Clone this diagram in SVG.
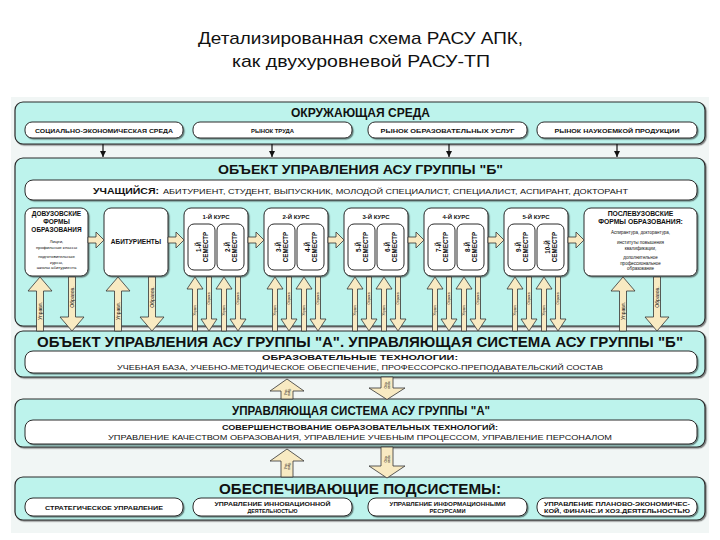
<svg xmlns="http://www.w3.org/2000/svg" width="720" height="540" viewBox="0 0 720 540">
<defs>
<style>
.t{font-family:"Liberation Sans",Arial,sans-serif;fill:#111}
.b{font-weight:bold}
.m{text-anchor:middle}
.panel{fill:#bdf3ec;stroke:#2a2a2a;stroke-width:1.2}
.box{fill:#fff;stroke:#2a2a2a;stroke-width:1}
.arr{fill:#f8eac2;stroke:#333;stroke-width:0.8}
.ln{stroke:#111;stroke-width:1.2;fill:none}
</style>
<filter id="sh" x="-5%" y="-5%" width="110%" height="120%"><feDropShadow dx="1.2" dy="1.2" stdDeviation="0.6" flood-color="#000" flood-opacity="0.45"/></filter>
<marker id="ah" viewBox="0 0 10 10" refX="10" refY="5" markerWidth="5" markerHeight="5" orient="auto"><path d="M0,0 L10,5 L0,10 z" fill="#111"/></marker>
<polygon id="tu" class="arr" points="0,0 8,12 2.5,12 2.5,54 -2.5,54 -2.5,12 -8,12"/>
<polygon id="td" class="arr" points="-2.5,0 2.5,0 2.5,42 8,42 0,54 -8,42 -2.5,42"/>
<polygon id="bu" class="arr" points="0,0 12,14 3.5,14 3.5,54 -3.5,54 -3.5,14 -12,14"/>
<polygon id="bd" class="arr" points="-3.5,0 3.5,0 3.5,40 12,40 0,54 -12,40 -3.5,40"/>
<polygon id="ha" class="arr" points="0,-3 8,-3 8,-8 16,0 8,8 8,3 0,3"/>
</defs>
<rect width="720" height="540" fill="#fff"/>
<rect x="11" y="97" width="698" height="436" fill="#f1f6f5"/>

<g id="title">
<text class="t m" x="360.5" y="44" font-size="17" textLength="325" lengthAdjust="spacingAndGlyphs">Детализированная схема РАСУ АПК,</text>
<text class="t m" x="361" y="67" font-size="17" textLength="258" lengthAdjust="spacingAndGlyphs">как двухуровневой РАСУ-ТП</text>
</g>

<!-- Panel 1 -->
<g id="env">
<rect class="panel" x="15" y="102" width="690" height="42" rx="8" filter="url(#sh)"/>
<text class="t b m" x="360.5" y="117" font-size="13" textLength="139" lengthAdjust="spacingAndGlyphs">ОКРУЖАЮЩАЯ СРЕДА</text>
</g>
<g id="env-1"><rect class="box" x="25" y="122" width="158" height="16" rx="7" filter="url(#sh)"/><text class="t b m" x="104" y="132.5" font-size="6" textLength="138" lengthAdjust="spacingAndGlyphs">СОЦИАЛЬНО-ЭКОНОМИЧЕСКАЯ СРЕДА</text></g>
<g id="env-2"><rect class="box" x="193" y="122" width="159" height="16" rx="7" filter="url(#sh)"/><text class="t b m" x="272.5" y="132.5" font-size="6" textLength="43" lengthAdjust="spacingAndGlyphs">РЫНОК ТРУДА</text></g>
<g id="env-3"><rect class="box" x="368" y="122" width="159" height="16" rx="7" filter="url(#sh)"/><text class="t b m" x="447.5" y="132.5" font-size="6" textLength="134" lengthAdjust="spacingAndGlyphs">РЫНОК ОБРАЗОВАТЕЛЬНЫХ УСЛУГ</text></g>
<g id="env-4"><rect class="box" x="537" y="122" width="160" height="16" rx="7" filter="url(#sh)"/><text class="t b m" x="617" y="132.5" font-size="6" textLength="125" lengthAdjust="spacingAndGlyphs">РЫНОК НАУКОЕМКОЙ ПРОДУКЦИИ</text></g>

<!-- Panel 2 -->
<g id="objB">
<rect class="panel" x="15" y="158" width="690" height="168" rx="8" filter="url(#sh)"/>
<text class="t b m" x="360.5" y="174" font-size="13" textLength="285" lengthAdjust="spacingAndGlyphs">ОБЪЕКТ УПРАВЛЕНИЯ АСУ ГРУППЫ "Б"</text>
</g>
<g id="learner">
<rect class="box" x="25" y="180" width="672" height="20" rx="8" filter="url(#sh)"/>
<text class="t b" x="93" y="193.5" font-size="8.5" textLength="66" lengthAdjust="spacingAndGlyphs">УЧАЩИЙСЯ:</text>
<text class="t" x="163" y="193.5" font-size="7.5" textLength="465" lengthAdjust="spacingAndGlyphs">АБИТУРИЕНТ, СТУДЕНТ, ВЫПУСКНИК, МОЛОДОЙ СПЕЦИАЛИСТ, СПЕЦИАЛИСТ, АСПИРАНТ, ДОКТОРАНТ</text>
</g>

<g id="prevuz">
<rect class="box" x="25" y="208" width="63" height="68" rx="7" filter="url(#sh)"/>
<text class="t b m" x="56.5" y="216" font-size="6.5">ДОВУЗОВСКИЕ</text>
<text class="t b m" x="56.5" y="224" font-size="6.5">ФОРМЫ</text>
<text class="t b m" x="56.5" y="232" font-size="6.5">ОБРАЗОВАНИЯ</text>
<text class="t m" x="56.5" y="243" font-size="4.3">Лицеи,</text>
<text class="t m" x="56.5" y="248.5" font-size="4.3">профильные классы</text>
<text class="t m" x="56.5" y="258" font-size="4.3">подготовительные</text>
<text class="t m" x="56.5" y="263.5" font-size="4.3">курсы,</text>
<text class="t m" x="56.5" y="269" font-size="4.3">школы абитуриента</text>
</g>
<g id="applicants">
<rect class="box" x="104" y="208" width="64" height="68" rx="7" filter="url(#sh)"/>
<text class="t b m" x="136" y="244" font-size="6.5">АБИТУРИЕНТЫ</text>
</g>

<g id="course1">
<rect class="box" x="184" y="208" width="64" height="68" rx="7" filter="url(#sh)"/>
<text class="t b m" x="216" y="219" font-size="6">1-Й КУРС</text>
<rect class="box" x="188" y="224" width="27" height="46" rx="6"/>
<rect class="box" x="217" y="224" width="27" height="46" rx="6"/>
<text class="t b m" font-size="6.3" transform="translate(201.5,247) rotate(-90)"><tspan x="0" y="-1">1-Й</tspan><tspan x="0" y="6.5">СЕМЕСТР</tspan></text>
<text class="t b m" font-size="6.3" transform="translate(230.5,247) rotate(-90)"><tspan x="0" y="-1">2-Й</tspan><tspan x="0" y="6.5">СЕМЕСТР</tspan></text>
</g>
<g id="course2">
<rect class="box" x="264" y="208" width="64" height="68" rx="7" filter="url(#sh)"/>
<text class="t b m" x="296" y="219" font-size="6">2-Й КУРС</text>
<rect class="box" x="268" y="224" width="27" height="46" rx="6"/>
<rect class="box" x="297" y="224" width="27" height="46" rx="6"/>
<text class="t b m" font-size="6.3" transform="translate(281.5,247) rotate(-90)"><tspan x="0" y="-1">3-Й</tspan><tspan x="0" y="6.5">СЕМЕСТР</tspan></text>
<text class="t b m" font-size="6.3" transform="translate(310.5,247) rotate(-90)"><tspan x="0" y="-1">4-Й</tspan><tspan x="0" y="6.5">СЕМЕСТР</tspan></text>
</g>
<g id="course3">
<rect class="box" x="344" y="208" width="64" height="68" rx="7" filter="url(#sh)"/>
<text class="t b m" x="376" y="219" font-size="6">3-Й КУРС</text>
<rect class="box" x="348" y="224" width="27" height="46" rx="6"/>
<rect class="box" x="377" y="224" width="27" height="46" rx="6"/>
<text class="t b m" font-size="6.3" transform="translate(361.5,247) rotate(-90)"><tspan x="0" y="-1">5-Й</tspan><tspan x="0" y="6.5">СЕМЕСТР</tspan></text>
<text class="t b m" font-size="6.3" transform="translate(390.5,247) rotate(-90)"><tspan x="0" y="-1">6-Й</tspan><tspan x="0" y="6.5">СЕМЕСТР</tspan></text>
</g>
<g id="course4">
<rect class="box" x="424" y="208" width="64" height="68" rx="7" filter="url(#sh)"/>
<text class="t b m" x="456" y="219" font-size="6">4-Й КУРС</text>
<rect class="box" x="428" y="224" width="27" height="46" rx="6"/>
<rect class="box" x="457" y="224" width="27" height="46" rx="6"/>
<text class="t b m" font-size="6.3" transform="translate(441.5,247) rotate(-90)"><tspan x="0" y="-1">7-Й</tspan><tspan x="0" y="6.5">СЕМЕСТР</tspan></text>
<text class="t b m" font-size="6.3" transform="translate(470.5,247) rotate(-90)"><tspan x="0" y="-1">8-Й</tspan><tspan x="0" y="6.5">СЕМЕСТР</tspan></text>
</g>
<g id="course5">
<rect class="box" x="504" y="208" width="64" height="68" rx="7" filter="url(#sh)"/>
<text class="t b m" x="536" y="219" font-size="6">5-Й КУРС</text>
<rect class="box" x="508" y="224" width="27" height="46" rx="6"/>
<rect class="box" x="537" y="224" width="27" height="46" rx="6"/>
<text class="t b m" font-size="6.3" transform="translate(521.5,247) rotate(-90)"><tspan x="0" y="-1">9-Й</tspan><tspan x="0" y="6.5">СЕМЕСТР</tspan></text>
<text class="t b m" font-size="6.3" transform="translate(550.5,247) rotate(-90)"><tspan x="0" y="-1">10-Й</tspan><tspan x="0" y="6.5">СЕМЕСТР</tspan></text>
</g>
<g id="postvuz">
<rect class="box" x="584" y="208" width="113" height="68" rx="7" filter="url(#sh)"/>
<text class="t b m" x="640.5" y="216" font-size="6.8">ПОСЛЕВУЗОВСКИЕ</text>
<text class="t b m" x="640.5" y="224" font-size="6.8">ФОРМЫ ОБРАЗОВАНИЯ:</text>
<text class="t m" x="640.5" y="234" font-size="4.5">Аспирантура, докторантура,</text>
<text class="t m" x="640.5" y="244" font-size="4.5">институты повышения</text>
<text class="t m" x="640.5" y="249.5" font-size="4.5">квалификации,</text>
<text class="t m" x="640.5" y="259" font-size="4.5">дополнительное</text>
<text class="t m" x="640.5" y="264.5" font-size="4.5">профессиональное</text>
<text class="t m" x="640.5" y="270" font-size="4.5">образование</text>
</g>

<!-- Panel 3 -->
<g id="objA">
<rect class="panel" x="15" y="331" width="690" height="46" rx="8" filter="url(#sh)"/>
<text class="t b m" x="360" y="346.5" font-size="14" textLength="646" lengthAdjust="spacingAndGlyphs">ОБЪЕКТ УПРАВЛЕНИЯ АСУ ГРУППЫ "А".  УПРАВЛЯЮЩАЯ  СИСТЕМА  АСУ ГРУППЫ "Б"</text>
<rect class="box" x="25" y="351" width="672" height="22" rx="8" filter="url(#sh)"/>
<text class="t b m" x="360" y="360" font-size="8" textLength="196" lengthAdjust="spacingAndGlyphs">ОБРАЗОВАТЕЛЬНЫЕ ТЕХНОЛОГИИ:</text>
<text class="t m" x="360" y="369.5" font-size="7" textLength="486" lengthAdjust="spacingAndGlyphs">УЧЕБНАЯ БАЗА, УЧЕБНО-МЕТОДИЧЕСКОЕ ОБЕСПЕЧЕНИЕ, ПРОФЕССОРСКО-ПРЕПОДАВАТЕЛЬСКИЙ СОСТАВ</text>
</g>

<!-- Panel 4 -->
<g id="ctrlA">
<rect class="panel" x="15" y="399" width="690" height="48" rx="8" filter="url(#sh)"/>
<text class="t b m" x="361" y="414.5" font-size="13" textLength="258" lengthAdjust="spacingAndGlyphs">УПРАВЛЯЮЩАЯ СИСТЕМА  АСУ ГРУППЫ "А"</text>
<rect class="box" x="25" y="420" width="672" height="24" rx="8" filter="url(#sh)"/>
<text class="t b m" x="360" y="430" font-size="8" textLength="276" lengthAdjust="spacingAndGlyphs">СОВЕРШЕНСТВОВАНИЕ ОБРАЗОВАТЕЛЬНЫХ ТЕХНОЛОГИЙ:</text>
<text class="t m" x="360" y="440" font-size="7" textLength="504" lengthAdjust="spacingAndGlyphs">УПРАВЛЕНИЕ КАЧЕСТВОМ ОБРАЗОВАНИЯ, УПРАВЛЕНИЕ УЧЕБНЫМ ПРОЦЕССОМ, УПРАВЛЕНИЕ ПЕРСОНАЛОМ</text>
</g>

<!-- Panel 5 -->
<g id="support">
<rect class="panel" x="15" y="477" width="690" height="43" rx="8" filter="url(#sh)"/>
<text class="t b m" x="360" y="494" font-size="15.5" textLength="282" lengthAdjust="spacingAndGlyphs">ОБЕСПЕЧИВАЮЩИЕ ПОДСИСТЕМЫ:</text>
</g>
<g id="sup-1"><rect class="box" x="25" y="498" width="158" height="18" rx="8" filter="url(#sh)"/><text class="t b m" x="104" y="509.5" font-size="6" textLength="118" lengthAdjust="spacingAndGlyphs">СТРАТЕГИЧЕСКОЕ УПРАВЛЕНИЕ</text></g>
<g id="sup-2"><rect class="box" x="193" y="498" width="159" height="18" rx="8" filter="url(#sh)"/><text class="t b m" x="272.5" y="505.5" font-size="6" textLength="116" lengthAdjust="spacingAndGlyphs">УПРАВЛЕНИЕ ИННОВАЦИОННОЙ</text><text class="t b m" x="272.5" y="513" font-size="6" textLength="50" lengthAdjust="spacingAndGlyphs">ДЕЯТЕЛЬНОСТЬЮ</text></g>
<g id="sup-3"><rect class="box" x="368" y="498" width="159" height="18" rx="8" filter="url(#sh)"/><text class="t b m" x="447.5" y="505.5" font-size="6" textLength="116" lengthAdjust="spacingAndGlyphs">УПРАВЛЕНИЕ ИНФОРМАЦИОННЫМИ</text><text class="t b m" x="447.5" y="513" font-size="6" textLength="36" lengthAdjust="spacingAndGlyphs">РЕСУРСАМИ</text></g>
<g id="sup-4"><rect class="box" x="537" y="498" width="160" height="18" rx="8" filter="url(#sh)"/><text class="t b m" x="617" y="505.5" font-size="6" textLength="146" lengthAdjust="spacingAndGlyphs">УПРАВЛЕНИЕ ПЛАНОВО-ЭКОНОМИЧЕС-</text><text class="t b m" x="617" y="513" font-size="6" textLength="146" lengthAdjust="spacingAndGlyphs">КОЙ, ФИНАНС.И ХОЗ.ДЕЯТЕЛЬНОСТЬЮ</text></g>

<!-- Connectors -->
<g id="connectors">
<line class="ln" x1="103" y1="144" x2="103" y2="157" marker-end="url(#ah)"/>
<line class="ln" x1="272" y1="144" x2="272" y2="157" marker-end="url(#ah)"/>
<line class="ln" x1="449" y1="144" x2="449" y2="157" marker-end="url(#ah)"/>
<line class="ln" x1="617" y1="144" x2="617" y2="157" marker-end="url(#ah)"/>

<use href="#ha" x="88" y="240"/>
<use href="#ha" x="168" y="240"/>
<use href="#ha" x="248" y="240"/>
<use href="#ha" x="328" y="240"/>
<use href="#ha" x="408" y="240"/>
<use href="#ha" x="488" y="240"/>
<use href="#ha" x="568" y="240"/>

<use href="#bu" x="40" y="277"/><use href="#bd" x="72" y="277"/>
<use href="#bu" x="118" y="277"/><use href="#bd" x="152" y="277"/>
<use href="#bu" x="623" y="277"/><use href="#bd" x="657" y="277"/>
<g class="t m" font-size="5">
<text transform="translate(40,311) rotate(-90)" dy="1.7">Управл.</text>
<text transform="translate(72,297) rotate(-90)" dy="1.7">Образов.</text>
<text transform="translate(118,311) rotate(-90)" dy="1.7">Управл.</text>
<text transform="translate(152,297) rotate(-90)" dy="1.7">Образов.</text>
<text transform="translate(623,311) rotate(-90)" dy="1.7">Управл.</text>
<text transform="translate(657,297) rotate(-90)" dy="1.7">Образов.</text>
</g>

<use href="#tu" x="195" y="277"/><use href="#td" x="209" y="277"/><use href="#tu" x="224" y="277"/><use href="#td" x="238" y="277"/>
<use href="#tu" x="275" y="277"/><use href="#td" x="289" y="277"/><use href="#tu" x="304" y="277"/><use href="#td" x="318" y="277"/>
<use href="#tu" x="355" y="277"/><use href="#td" x="369" y="277"/><use href="#tu" x="384" y="277"/><use href="#td" x="398" y="277"/>
<use href="#tu" x="435" y="277"/><use href="#td" x="449" y="277"/><use href="#tu" x="464" y="277"/><use href="#td" x="478" y="277"/>
<use href="#tu" x="515" y="277"/><use href="#td" x="529" y="277"/><use href="#tu" x="544" y="277"/><use href="#td" x="558" y="277"/>
<g class="t m" font-size="3">
<text transform="translate(195,310) rotate(-90)" dy="1">Управл.</text><text transform="translate(209,298) rotate(-90)" dy="1">Образов.</text><text transform="translate(224,310) rotate(-90)" dy="1">Управл.</text><text transform="translate(238,298) rotate(-90)" dy="1">Образов.</text>
<text transform="translate(275,310) rotate(-90)" dy="1">Управл.</text><text transform="translate(289,298) rotate(-90)" dy="1">Образов.</text><text transform="translate(304,310) rotate(-90)" dy="1">Управл.</text><text transform="translate(318,298) rotate(-90)" dy="1">Образов.</text>
<text transform="translate(355,310) rotate(-90)" dy="1">Управл.</text><text transform="translate(369,298) rotate(-90)" dy="1">Образов.</text><text transform="translate(384,310) rotate(-90)" dy="1">Управл.</text><text transform="translate(398,298) rotate(-90)" dy="1">Образов.</text>
<text transform="translate(435,310) rotate(-90)" dy="1">Управл.</text><text transform="translate(449,298) rotate(-90)" dy="1">Образов.</text><text transform="translate(464,310) rotate(-90)" dy="1">Управл.</text><text transform="translate(478,298) rotate(-90)" dy="1">Образов.</text>
<text transform="translate(515,310) rotate(-90)" dy="1">Управл.</text><text transform="translate(529,298) rotate(-90)" dy="1">Образов.</text><text transform="translate(544,310) rotate(-90)" dy="1">Управл.</text><text transform="translate(558,298) rotate(-90)" dy="1">Образов.</text>
</g>

<polygon class="arr" points="287,379 304,391 293,391 293,399 281,399 281,391 270,391"/>
<polygon class="arr" points="381,377 393,377 393,388 405,388 387,399.5 369,388 381,388"/>
<polygon class="arr" points="287,449 304,461 293,461 293,477 281,477 281,461 270,461"/>
<polygon class="arr" points="381,447 393,447 393,466 405,466 387,478 369,466 381,466"/>
<g class="t m" font-size="3.2">
<text transform="translate(287,392) rotate(-90)"><tspan x="0" y="-0.5">Упр.</tspan><tspan x="0" y="3.2">возд.</tspan></text>
<text transform="translate(387,385) rotate(-90)"><tspan x="0" y="-0.5">Обр.</tspan><tspan x="0" y="3.2">связь</tspan></text>
<text transform="translate(287,466) rotate(-90)"><tspan x="0" y="-0.5">Упр.</tspan><tspan x="0" y="3.2">возд.</tspan></text>
<text transform="translate(387,459) rotate(-90)"><tspan x="0" y="-0.5">Обр.</tspan><tspan x="0" y="3.2">связь</tspan></text>
</g>
</g>
</svg>
